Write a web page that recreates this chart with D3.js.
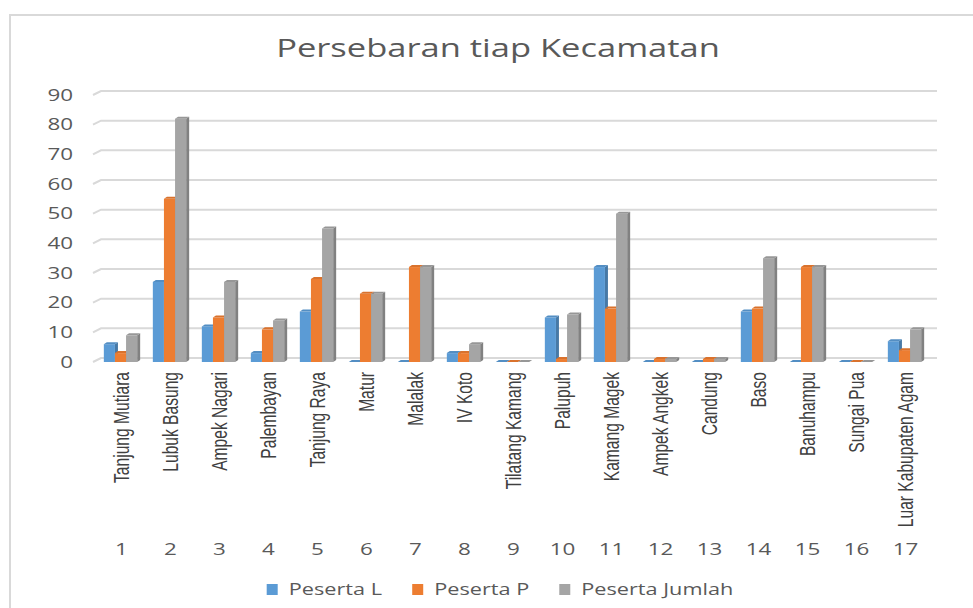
<!DOCTYPE html>
<html>
<head>
<meta charset="utf-8">
<script src="https://cdn.jsdelivr.net/npm/d3@7"></script>
<style>
  body { margin: 0; background: #fff; }
  text { fill: #595959; }
</style>
</head>
<body>
<div id="chart"></div>
<script>
var width = 973,
    height = 608;

const kecamatan = ['Tanjung Mutiara', 'Lubuk Basung', 'Ampek Nagari', 'Palembayan', 'Tanjung Raya',
    'Matur', 'Malalak', 'IV Koto', 'Tilatang Kamang', 'Palupuh', 'Kamang Magek', 'Ampek Angkek',
    'Candung', 'Baso', 'Banuhampu', 'Sungai Pua', 'Luar Kabupaten Agam'];
const nomor = d3.range(1, 18).map(String);
const pesertaL = [6, 27, 12, 3, 17, 0, 0, 3, 0, 15, 32, 0, 0, 17, 0, 0, 7];
const pesertaP = [3, 55, 15, 11, 28, 23, 32, 3, 0, 1, 18, 1, 1, 18, 32, 0, 4];
const pesertaJumlah = [9, 82, 27, 14, 45, 23, 32, 6, 0, 16, 50, 1, 1, 35, 32, 0, 11];
const yTicks = [0, 10, 20, 30, 40, 50, 60, 70, 80, 90];

const series = [
    { name: 'Peserta L', values: pesertaL, color: '#5B9BD5' },
    { name: 'Peserta P', values: pesertaP, color: '#ED7D31' },
    { name: 'Peserta Jumlah', values: pesertaJumlah, color: '#A5A5A5' }
];

// 3d offsets of the back wall and bar depth
const wallDx = 8, wallDy = -4;
const depthX = 3, depthY = -2;
// the source picture is stretched sideways, text gets the same treatment
const stretch = 1.4;

var svg = d3.select('#chart').append('svg')
    .attr('width', width)
    .attr('height', height)
    .style('font-family', '"Open Sans", sans-serif');

svg.append('rect')
    .attr('x', 10).attr('y', 15)
    .attr('width', 1000).attr('height', 1000)
    .attr('fill', 'white')
    .attr('stroke', '#d9d9d9')
    .attr('stroke-width', 2);

svg.append('text')
    .attr('transform', `translate(498,57) scale(1.38,1)`)
    .attr('text-anchor', 'middle')
    .style('font-size', '25px')
    .text('Persebaran tiap Kecamatan');

var x = d3.scaleBand()
    .domain(kecamatan)
    .range([96, 929])
    .paddingInner(0.32)
    .paddingOuter(0.16);

var xInner = d3.scaleBand()
    .domain(series.map(s => s.name))
    .range([0, x.bandwidth()]);

var y = d3.scaleLinear()
    .domain([0, 90])
    .range([362, 95]);

// gridlines on the back wall plus the slanted floor piece
var grid = svg.append('g').attr('class', 'grid');
grid.selectAll('.gline')
    .data(yTicks).enter()
    .append('path')
    .attr('class', 'gline')
    .attr('fill', 'none')
    .attr('stroke', '#d9d9d9')
    .attr('stroke-width', 2)
    .attr('d', d => `M${93},${y(d)} L${93 + wallDx},${y(d) + wallDy} L${937},${y(d) + wallDy}`);

grid.selectAll('.ytick')
    .data(yTicks).enter()
    .append('text')
    .attr('class', 'ytick')
    .attr('transform', d => `translate(73,${y(d)}) scale(${stretch},1)`)
    .attr('dy', '0.35em')
    .attr('text-anchor', 'end')
    .style('font-size', '16px')
    .text(d => d);

// 3d columns
series.forEach(s => {
    var g = svg.append('g').attr('class', 'series');
    var side = d3.color(s.color).darker(0.7);
    var top = d3.color(s.color).darker(0.25);
    var bars = g.selectAll('.bar')
        .data(kecamatan.map((k, i) => ({ k: k, v: s.values[i] })))
        .enter().append('g')
        .attr('class', 'bar');

    bars.each(function (d) {
        var b = d3.select(this);
        var x0 = x(d.k) + xInner(s.name);
        var x1 = x0 + xInner.bandwidth();
        var yt = y(d.v), yb = y(0);
        b.append('path')
            .attr('fill', side)
            .attr('d', `M${x1},${yt} L${x1 + depthX},${yt + depthY} L${x1 + depthX},${yb + depthY} L${x1},${yb} Z`);
        b.append('rect')
            .attr('x', x0).attr('y', yt)
            .attr('width', x1 - x0)
            .attr('height', yb - yt)
            .attr('fill', s.color);
        b.append('path')
            .attr('fill', top)
            .attr('d', `M${x0},${yt} L${x0 + depthX},${yt + depthY} L${x1 + depthX},${yt + depthY} L${x1},${yt} Z`);
    });
});

// category labels, rotated
svg.append('g').selectAll('.cat')
    .data(kecamatan).enter()
    .append('text')
    .attr('class', 'cat')
    .attr('transform', d => `translate(${x(d) + x.bandwidth() / 2 + 1},372) scale(1.4,1) rotate(-90)`)
    .attr('dy', '0.35em')
    .attr('text-anchor', 'end')
    .style('fill', '#404040')
    .style('font-family', '"Liberation Sans", Arial, sans-serif')
    .style('font-size', '15.6px')
    .text(d => d);

// category numbers
svg.append('g').selectAll('.num')
    .data(kecamatan).enter()
    .append('text')
    .attr('class', 'num')
    .attr('transform', d => `translate(${x(d) + x.bandwidth() / 2 + 1},549) scale(${stretch},1)`)
    .attr('dy', '0.35em')
    .attr('text-anchor', 'middle')
    .style('font-size', '16px')
    .text((d, i) => nomor[i]);

// legend
var legend = svg.append('g').attr('class', 'legend');
var items = legend.selectAll('.key')
    .data(series).enter()
    .append('g')
    .attr('class', 'key');

items.append('rect')
    .attr('width', 11).attr('height', 11)
    .attr('y', -6)
    .attr('fill', d => d.color);

items.append('text')
    .attr('transform', `translate(22,0) scale(${stretch},1)`)
    .attr('dy', '0.35em')
    .style('font-size', '15.5px')
    .text(d => d.name);

var offsets = [], pos = 0;
items.each(function () {
    offsets.push(pos);
    pos += 22 + d3.select(this).select('text').node().getBBox().width * stretch + 30;
});
var total = pos - 30;
items.attr('transform', (d, i) => `translate(${500 - total / 2 + offsets[i]},590)`);
</script>
</body>
</html>
